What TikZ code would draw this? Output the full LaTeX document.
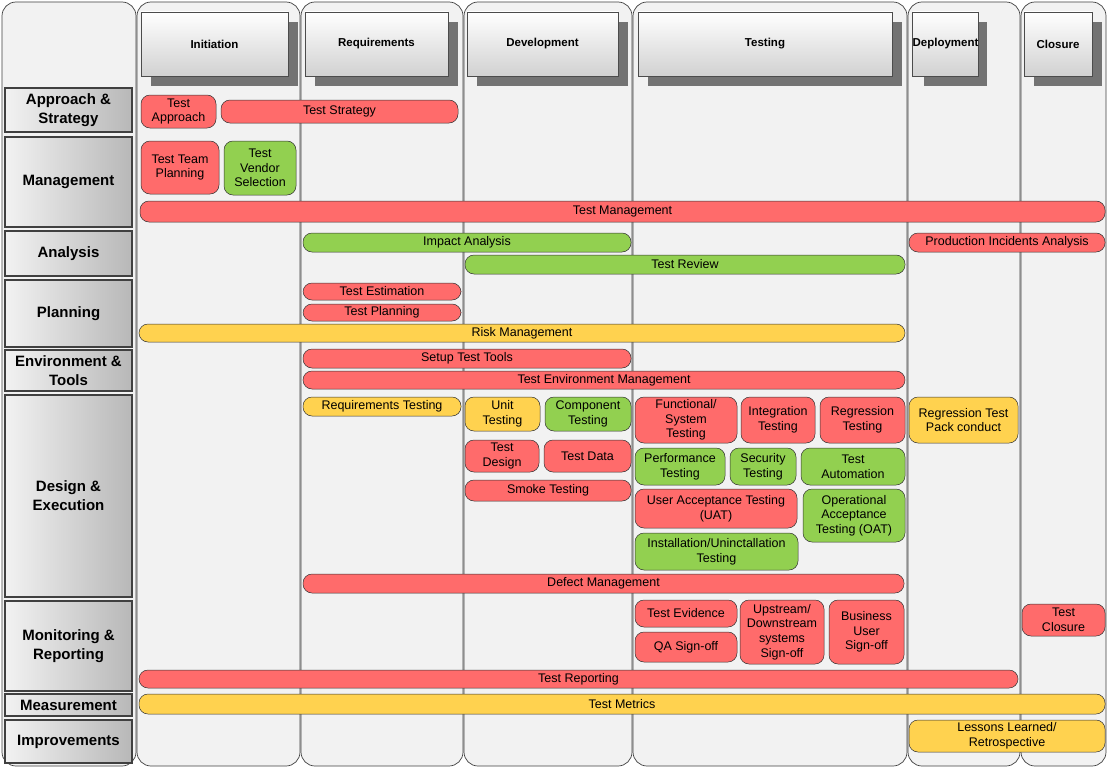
\documentclass[tikz,border=0pt]{standalone}
\usepackage{fontspec}
\setmainfont{Liberation Sans}
\definecolor{pred}{HTML}{FF6B6B}
\definecolor{pgreen}{HTML}{92D050}
\definecolor{pyel}{HTML}{FFD24F}
\definecolor{lane}{HTML}{F2F2F2}
\begin{document}
\begin{tikzpicture}[x=1pt,y=-1pt,
  lanebox/.style={draw=black!75,fill=lane,line width=0.7pt,rounded corners=14pt},
  hdr/.style={draw=black!70,top color=white,bottom color=black!18,font=\bfseries\fontsize{11.5}{13}\selectfont,inner sep=0pt},
  rowlab/.style={draw=black!75,line width=1.2pt,left color=black!5,right color=black!28,font=\bfseries\fontsize{15}{19}\selectfont,align=center,inner sep=0pt},
  pillst/.style={draw=black!80,rounded corners=9pt,align=center,inner sep=0pt,font=\fontsize{12.5}{14.6}\selectfont,line width=0.5pt}]
\useasboundingbox (0,0) rectangle (1108,768);
\fill[white] (0,0) rectangle (1108,768);
% lanes
\foreach \a/\b in {2/136,137/300,301/463,464/632,633/907,908/1020,1021/1106}
  \draw[lanebox] (\a,766) -- (\a,2) -- (\b,2) -- (\b,766) -- cycle;
% headers
\newcommand\hd[5]{%
  \fill[black!55] (#2+10,#3+10) rectangle (#4+10,#5+10);
  \node[hdr,minimum width=#4-#2,minimum height=#5-#3] (h#1) at ({(#2+#4)/2},{(#3+#5)/2}) {#1};}
\hd{Initiation}{141}{12}{288}{76}
\hd{Requirements}{305}{12}{448}{76}
\hd{Development}{467}{12}{618}{76}
\hd{Testing}{638}{12}{892}{76}
\hd{Deployment}{914}{12}{977}{76}
\hd{Closure}{1024}{12}{1092}{76}
% row labels
\newcommand\rl[4]{\node[rowlab,minimum width=127,minimum height=#3-#2] (r#1) at (68.5,{(#2+#3)/2}) {#4};}
\rl{a}{88}{132}{Approach \&\\Strategy}
\rl{b}{137}{227}{Management}
\rl{c}{231}{276}{Analysis}
\rl{d}{280}{347}{Planning}
\rl{e}{350}{391}{Environment \&\\Tools}
\rl{f}{395}{597}{Design \&\\Execution}
\rl{g}{601}{691}{Monitoring \&\\Reporting}
\rl{h}{694}{716}{Measurement}
\rl{i}{720}{763}{Improvements}
% pills
\newcommand\pill[7]{\node[pillst,fill=#6,minimum width=#4-#2,minimum height=#5-#3] (#1) at ({(#2+#4)/2},{(#3+#5)/2}) {#7};}
\pill{p1}{141}{95}{216}{128}{pred}{Test\\Approach}
\pill{p2}{221}{100}{458}{123}{pred}{Test Strategy}
\pill{p3}{141}{141}{219}{194}{pred}{Test Team\\Planning}
\pill{p4}{224}{141}{296}{195}{pgreen}{Test\\Vendor\\Selection}
\pill{p5}{140}{201}{1105}{222}{pred}{Test Management}
\pill{p6}{303}{233}{631}{252}{pgreen}{Impact Analysis}
\pill{p7}{909}{233}{1105}{252}{pred}{Production Incidents Analysis}
\pill{p8}{465}{255}{905}{274}{pgreen}{Test Review}
\pill{p9}{303}{283}{461}{300}{pred}{Test Estimation}
\pill{p10}{303}{304}{461}{321}{pred}{Test Planning}
\pill{p11}{139}{324}{905}{342}{pyel}{Risk Management}
\pill{p12}{303}{349}{631}{368}{pred}{Setup Test Tools}
\pill{p13}{303}{371}{905}{389}{pred}{Test Environment Management}
\pill{p14}{303}{397}{461}{416}{pyel}{Requirements Testing}
\pill{p15}{465}{397}{540}{431}{pyel}{Unit\\Testing}
\pill{p16}{545}{397}{631}{431}{pgreen}{Component\\Testing}
\pill{p17}{635}{397}{737}{443}{pred}{Functional/\\System\\Testing}
\pill{p18}{741}{397}{815}{443}{pred}{Integration\\Testing}
\pill{p19}{820}{397}{905}{443}{pred}{Regression\\Testing}
\pill{p20}{909}{397}{1018}{443}{pyel}{Regression Test\\Pack conduct}
\pill{p21}{465}{440}{539}{472}{pred}{Test\\Design}
\pill{p22}{544}{440}{631}{472}{pred}{Test Data}
\pill{p23}{635}{448}{725}{485}{pgreen}{Performance\\Testing}
\pill{p24}{730}{448}{796}{485}{pgreen}{Security\\Testing}
\pill{p25}{801}{448}{905}{485}{pgreen}{Test\\Automation}
\pill{p26}{465}{480}{631}{501}{pred}{Smoke Testing}
\pill{p27}{635}{489}{797}{528}{pred}{User Acceptance Testing\\(UAT)}
\pill{p28}{803}{489}{905}{542}{pgreen}{Operational\\Acceptance\\Testing (OAT)}
\pill{p29}{635}{533}{798}{570}{pgreen}{Installation/Uninctallation\\Testing}
\pill{p30}{303}{574}{904}{593}{pred}{Defect Management}
\pill{p31}{635}{600}{737}{627}{pred}{Test Evidence}
\pill{p32}{635}{632}{737}{662}{pred}{QA Sign-off}
\pill{p33}{740}{600}{824}{664}{pred}{Upstream/\\Downstream\\systems\\Sign-off}
\pill{p34}{829}{600}{904}{664}{pred}{Business\\User\\Sign-off}
\pill{p35}{1022}{604}{1105}{636}{pred}{Test\\Closure}
\pill{p36}{139}{670}{1018}{688}{pred}{Test Reporting}
\pill{p37}{139}{694}{1105}{714}{pyel}{Test Metrics}
\pill{p38}{909}{720}{1105}{752}{pyel}{Lessons Learned/\\Retrospective}
\end{tikzpicture}
\end{document}
